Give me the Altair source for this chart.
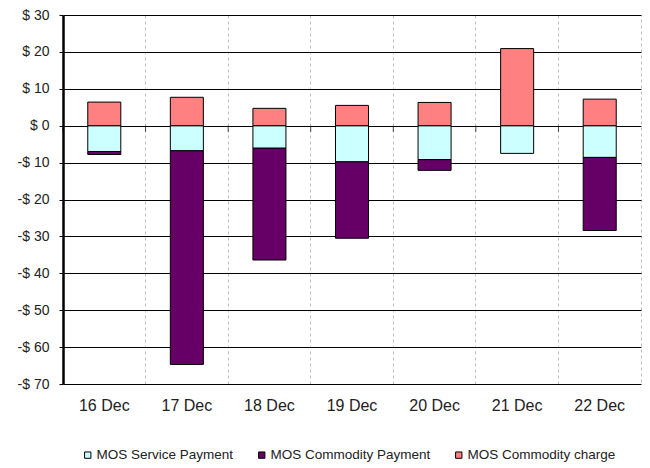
import altair as alt
import pandas as pd

days = ["16 Dec", "17 Dec", "18 Dec", "19 Dec", "20 Dec", "21 Dec", "22 Dec"]
series = ["MOS Service Payment", "MOS Commodity Payment", "MOS Commodity charge"]
service_payment = [-7.0, -6.8, -6.1, -9.8, -9.2, -7.5, -8.6]
commodity_payment = [-0.8, -57.9, -30.3, -20.7, -2.9, 0.0, -19.8]
commodity_charge = [6.4, 7.7, 4.7, 5.5, 6.3, 20.9, 7.2]
colors = ["#CCFFFF", "#660066", "#FF8080"]
y_ticks = [-70, -60, -50, -40, -30, -20, -10, 0, 10, 20, 30]

rows = []
for i, d in enumerate(days):
    for k, vals in enumerate([service_payment, commodity_payment, commodity_charge]):
        if vals[i] != 0:
            rows.append({"day": d, "series": series[k], "value": vals[i], "order": k})
df = pd.DataFrame(rows)
days_df = pd.DataFrame({"day": days})

FONT = "Liberation Sans"

x_scale = alt.Scale(domain=days, paddingInner=0, paddingOuter=0)
y_scale = alt.Scale(domain=[-70, 30], nice=False, zero=False)

x_axis = alt.Axis(bandPosition=0, grid=True, gridColor="#bdbdbd", gridDash=[3, 3],
                  gridWidth=1, ticks=False, domain=False,
                  labelAngle=0, labelFont=FONT, labelFontSize=16, labelColor="#222",
                  labelPadding=13)
y_axis = alt.Axis(values=y_ticks, grid=True, gridColor="#000", gridWidth=1, gridOpacity=1,
                  domainColor="#000", domainWidth=2.5, tickColor="#000", tickSize=4,
                  labelFont=FONT, labelFontSize=14, labelColor="#222", labelPadding=10,
                  labelOverlap=False,
                  labelExpr="datum.value < 0 ? '-$ ' + abs(datum.value) : '$ ' + datum.value")

bars = alt.Chart(df).mark_bar(width={"band": 0.4}, stroke="black", strokeWidth=1).encode(
    x=alt.X("day:N", sort=days, scale=x_scale, title=None, axis=x_axis),
    y=alt.Y("value:Q", scale=y_scale, stack="zero", title=None, axis=y_axis),
    color=alt.Color("series:N", scale=alt.Scale(domain=series, range=colors), title=None,
                    legend=alt.Legend(orient="none", legendX=18, legendY=433, direction="horizontal",
                                      symbolType="square", symbolSize=40, symbolStrokeColor="black",
                                      symbolStrokeWidth=1, labelFont=FONT, labelFontSize=13.5,
                                      labelColor="#222", columnPadding=21, labelOffset=2, padding=0)),
    order=alt.Order("order:Q"),
)

ticks = alt.Chart(days_df).mark_tick(orient="vertical", size=6, thickness=1, color="black", yOffset=3).encode(
    x=alt.X("day:N", sort=days, scale=x_scale, bandPosition=0, title=None, axis=x_axis),
    y=alt.YDatum(0, type="quantitative", scale=y_scale, title=None, axis=y_axis),
)

chart = alt.layer(bars, ticks).properties(
    width=578, height=369,
    autosize=alt.AutoSizeParams(type="none"),
    padding={"left": 55, "top": 7, "right": 1, "bottom": 80},
).configure_view(stroke="#bdbdbd", strokeDash=[3, 3], strokeWidth=1)

chart.save("out.html", embed_options={"renderer": "svg", "actions": False})
